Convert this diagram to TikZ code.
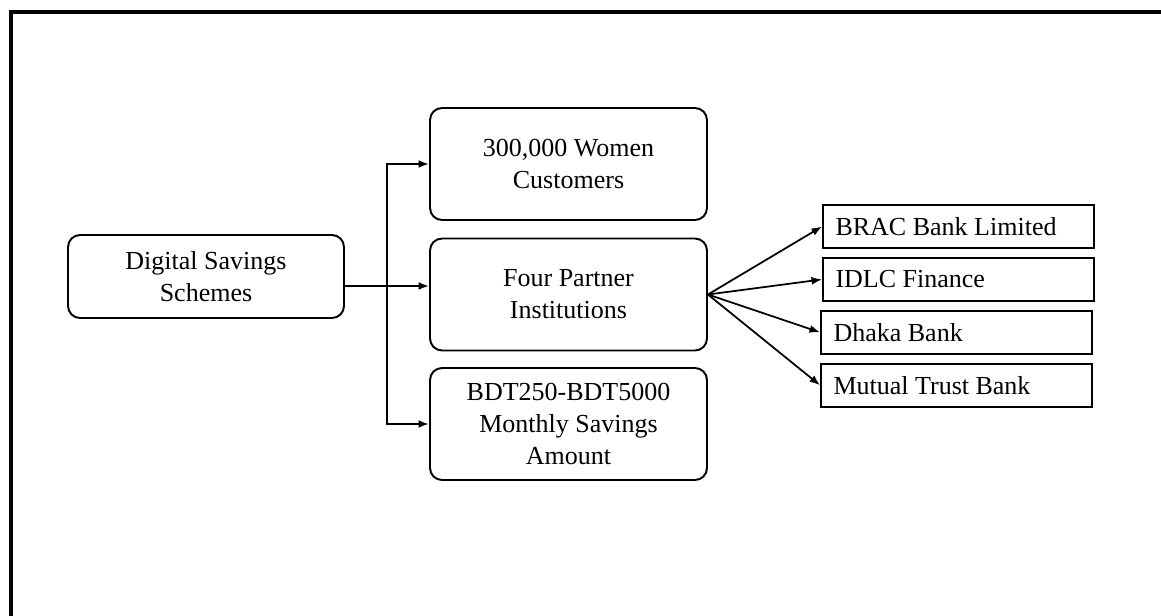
\documentclass[tikz,border=0pt]{standalone}
\usepackage{fontspec}
\setmainfont{Liberation Serif}
\usetikzlibrary{positioning,arrows.meta}

\begin{document}
\begin{tikzpicture}[
		x=0.02cm, y=-0.02cm
		,every node/.append style={font=\fontsize{14.8}{18.1}\selectfont}
		,rbox/.style={draw, line width=1.1pt, rounded corners=0.24cm, align=center, minimum width=5.54cm, minimum height=2.24cm, inner sep=2pt}
		,bank/.style={draw, line width=1.1pt, minimum width=5.42cm, minimum height=0.86cm, text width=5.42cm-0.5cm, inner xsep=0.25cm, inner ysep=0pt, align=flush left}
		,arr/.style={line width=1pt, -{Latex[length=6pt,width=4.5pt]}}
	]
		\useasboundingbox (0,0) rectangle (1161,616);
		\draw [line width=2pt] (11,616) -- (11,12) -- (1161,12);

		\node [rbox, minimum width=5.52cm, minimum height=1.66cm] (dss) at (206,276.5) {Digital Savings\\Schemes};
		\node [rbox] (wc) at (568.5,164) {300,000 Women\\Customers};
		\node [rbox] (fp) at (568.5,294.5) {Four Partner\\Institutions};
		\node [rbox] (ab) at (568.5,424) {BDT250-BDT5000\\Monthly Savings\\Amount};

		\node [bank] (brac) at (958.5,226.5) {BRAC Bank Limited};
		\node [bank, below=0.16cm of brac] (idlc) {IDLC Finance};
		\node [bank, below=0.16cm of idlc, xshift=-0.04cm] (dhaka) {Dhaka Bank};
		\node [bank, below=0.16cm of dhaka] (mtb) {Mutual Trust Bank};

		\coordinate (jn) at (387,286);
		\draw [line width=1pt] (jn -| dss.east) -- (jn);
		\draw [arr] (jn) |- (wc.west);
		\draw [arr] (jn) -- (jn -| fp.west);
		\draw [arr] (jn) |- (ab.west);

		\foreach \b in {brac,idlc,dhaka,mtb}
			\draw [arr] (fp.east) -- (\b.west);
	\end{tikzpicture}
\end{document}
